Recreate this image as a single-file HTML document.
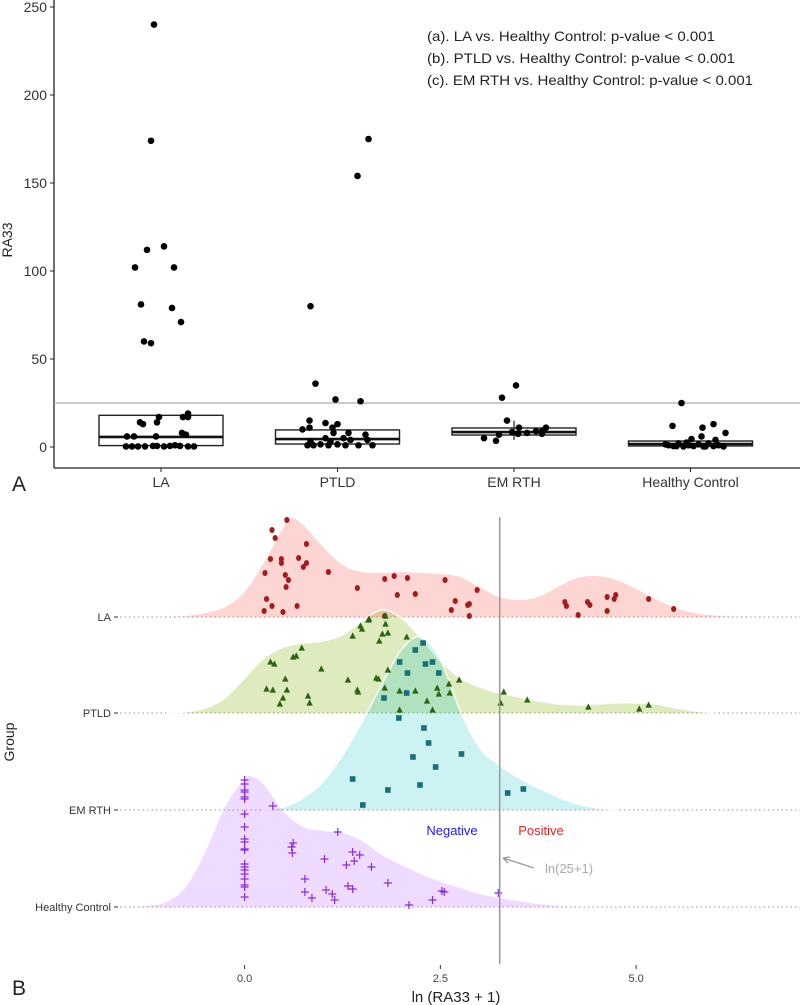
<!DOCTYPE html>
<html><head><meta charset="utf-8"><style>
html,body{margin:0;padding:0;background:#fff}
svg{display:block;font-family:"Liberation Sans",Arial,sans-serif}
</style></head><body>
<svg id="chart" width="800" height="1005" viewBox="0 0 800 1005"></svg>
<script>
// ---------- Panel A data ----------
const catsA = ["LA","PTLD","EM RTH","Healthy Control"];
const yTicksA = [0,50,100,150,200,250];
const boxLA = [0.8,5.7,18];   // q1, median, q3
const boxPTLD = [1.7,4.5,9.7];
const boxEM = [6.8,8.5,10.8];
const boxHC = [0.6,1.7,3.4];
const ptsLAval = [240,174,112,114,102,102,81,79,71,60,59,0.3,0.3,0.3,0.3,0.6,0.6,0.3,0.6,1,0.6,0.3,0.3,6,6,6,8,7,14,13,14,17,17,19,17];
const ptsLAjit = [-7,-10,-14,3,-26,13,-20,11,20,-17,-10,-35,-29,-23,-16,-8,-4,3,9,14,19,27,33,-34,-27,-5,21,25,-21,-18,-4,-2,22,27,27];
const ptsPTval = [175,154,80,36,27,26,15,10,11,13.6,11,13,8,8,7,5,5,4,1,1,1.5,1,1.5,1,1,1,4,3,3];
const ptsPTjit = [31,20,-27,-22,-2,23,-28,-35,-28,-12,-5,0,-4,11,28,-12,6,13,-30,-24,-17,-9,0,8,21,35,30,-7,-27];
const ptsEMval = [28,35,15,11,8.5,8,9,9,11,7.5,7.5,5,3.5,7];
const ptsEMjit = [-12,2,-7,5,-2,13,22,28,32,28,4,-30,-18,-15];
const ptsHCval = [25,12,11,13,8,6,4.5,4,1,0.5,2,0.3,1,0.5,1.5,0.3,2,0.5,1,0.3,1.5,0.5,2.5,0.3];
const ptsHCjit = [-9,-18,12,23,35,11,1,25,-22,-17,-12,-7,-2,3,8,13,18,23,28,33,-25,-14,-4,15];

// ---------- Panel B data ----------
const groupsB = ["LA","PTLD","EM RTH","Healthy Control"];
const xTicksB = [0,2.5,5];
const xTickLabelsB = ["0.0","2.5","5.0"];
const densLAx = [-1,-0.75,-0.5,-0.25,0,0.25,0.5,0.6,0.75,1,1.25,1.5,1.75,2,2.25,2.5,2.75,3,3.25,3.5,3.75,4,4.25,4.5,4.75,5,5.25,5.5,5.75,6,6.25];
const densLAh = [0,1,4,10,25,55,90,99,92,70,52,45,44,45,44,43,40,30,20,17,20,30,39,41,37,28,18,9,4,1.5,0];
const densPTx = [-1,-0.75,-0.5,-0.25,0,0.25,0.5,0.75,1,1.25,1.5,1.75,2,2.25,2.5,2.75,3,3.25,3.5,3.75,4,4.25,4.5,4.75,5,5.25,5.5,5.75,6];
const densPTh = [0,1,5,15,35,55,66,70,72,78,92,103,95,75,52,35,26,20,16,12,9,8,9,10,10,9,5,2,0];
const densEMx = [0.25,0.5,0.75,1,1.25,1.5,1.75,2,2.25,2.5,2.75,3,3.25,3.5,3.75,4,4.25,4.5,4.75];
const densEMh = [0,3,12,28,55,88,125,160,173,150,100,62,45,32,22,13,6,2,0];
const densHCx = [-1.5,-1.25,-1,-0.75,-0.5,-0.25,0,0.1,0.25,0.5,0.75,1,1.25,1.5,1.75,2,2.25,2.5,2.75,3,3.25,3.5,3.75,4,4.25];
const densHCh = [0,1,5,20,55,100,128,130,122,95,80,76,74,66,52,42,33,25,19,13,9,6,3,1,0];
const rLAx = [0.54,0.35,0.39,0.79,0.33,0.47,0.69,0.79,0.75,0.47,0.26,0.52,0.56,1.07,0.53,0.28,0.35,0.25,0.49,0.67,1.79,1.91,2.08,2.56,1.44,1.95,2.18,2.97,2.69,2.64,2.85,2.87,2.87,1.79,4.09,4.11,4.38,4.41,4.26,4.63,4.72,4.74,4.63,5.16,5.48];
const rLAy = [97,87,79,73,58,58,59,54,50,54,44,42,37,45,30,18,11,6,5,11,38,41,39,37,29,22,23,27,16,7,12,13,1,1,15,11,15,12,2,20,18,22,6,18,8];
const rPTx = [1.59,1.58,1.80,1.80,1.48,1.50,1.38,1.76,1.83,1.72,2.07,0.73,0.66,0.62,0.33,0.38,0.98,0.52,0.28,0.36,0.54,0.49,0.45,0.81,0.83,1.32,1.68,1.71,1.44,1.45,1.79,1.98,2.18,2.46,2.48,2.61,2.62,2.74,2.33,1.98,2.40,3.31,3.27,3.61,4.39,5.04,5.16,1.83];
const rPTy = [94,93,97,89,87,84,77,79,80,72,76,65,57,56,51,49,44,34,24,23,23,15,9,17,10,33,35,34,23,21,25,22,22,25,19,29,20,33,12,3,3,21,10,13,6,4,8,43];
const rEMx = [2.28,2.18,1.98,2.31,2.40,2.08,2.48,1.78,2.07,1.97,2.29,2.35,2.15,2.77,2.44,1.38,1.83,2.24,3.36,3.56,1.51];
const rEMy = [167,160,148,146,148,137,137,112,117,92,82,67,53,56,43,31,20,25,17,21,5];
const rHCx = [0,0,0,0,0,0,0,0,0,0,0,0,0,0,0,0,0,0,0,0,0.36,1.19,0.62,0.60,0.61,1.02,1.38,1.47,1.40,1.30,1.62,0.77,1.83,0.77,1.04,1.32,1.38,1.12,0.86,1.15,2.10,2.40,2.55,2.52,3.24];
const rHCy = [127,123,117,115,110,108,93,80,68,65,58,57,43,40,37,33,28,22,20,10,101,75,64,60,54,48,55,52,46,42,40,28,24,15,17,21,18,13,9,7,2,7,15,16,14,2];

const NS="http://www.w3.org/2000/svg";
const svg=document.getElementById('chart');
function mk(tag,attrs,parent){const e=document.createElementNS(NS,tag);for(const k in attrs)e.setAttribute(k,attrs[k]);(parent||svg).appendChild(e);return e;}

// ================= Panel A =================
const A={left:54,right:800,bottom:468,y0:447,pxPer:1.76,c0:161,step:176.5};
function yA(v){return A.y0-v*A.pxPer;}
function xA(i){return A.c0+i*A.step;}
const gA=mk('g',{});


let ax=mk('line',{x1:A.left,y1:0,x2:A.left,y2:A.bottom,stroke:'#222','stroke-width':1.3},gA);

ax=mk('line',{x1:A.left,y1:A.bottom,x2:A.right,y2:A.bottom,stroke:'#222','stroke-width':1.3},gA);

yTicksA.forEach(t=>{
  const tk=mk('line',{x1:A.left-4,y1:yA(t),x2:A.left,y2:yA(t),stroke:'#222','stroke-width':1},gA);
  
  const tl=mk('text',{x:A.left-7,y:yA(t)+5,'text-anchor':'end','font-size':14,fill:'#333'},gA);
  tl.textContent=t;
  
});
const yt=mk('text',{x:12,y:240,transform:'rotate(-90 12 240)','text-anchor':'middle','font-size':14,fill:'#222'},gA);
yt.textContent='RA33';
catsA.forEach((c,i)=>{
  const tk=mk('line',{x1:xA(i),y1:A.bottom,x2:xA(i),y2:A.bottom+4,stroke:'#222','stroke-width':1},gA);
  
  const tl=mk('text',{x:xA(i),y:A.bottom+19,'text-anchor':'middle','font-size':14,fill:'#333'},gA);
  tl.textContent=c;
});
let th=mk('line',{x1:A.left,y1:yA(25),x2:A.right,y2:yA(25),stroke:'#aaa','stroke-width':1.3},gA);

[boxLA,boxPTLD,boxEM,boxHC].forEach((b,i)=>{
  const hw=62;
  const r=mk('rect',{x:xA(i)-hw,y:yA(b[2]),width:hw*2,height:yA(b[0])-yA(b[2]),fill:'none',stroke:'#222','stroke-width':1.4},gA);
  
  const m=mk('line',{x1:xA(i)-hw,y1:yA(b[1]),x2:xA(i)+hw,y2:yA(b[1]),stroke:'#111','stroke-width':2.6},gA);
  
});
let wk=mk('line',{x1:xA(2),y1:yA(15),x2:xA(2),y2:yA(4),stroke:'#222','stroke-width':1.2},gA);

[[ptsLAval,ptsLAjit],[ptsPTval,ptsPTjit],[ptsEMval,ptsEMjit],[ptsHCval,ptsHCjit]].forEach((p,i)=>{
  p[0].forEach((v,j)=>{
    const c=mk('circle',{cx:xA(i)+p[1][j],cy:yA(v),r:3.3,fill:'#000'},gA);
    
    
  });
});
const annLens=[288,308,326];
["(a). LA vs. Healthy Control: p-value < 0.001","(b). PTLD vs. Healthy Control: p-value < 0.001","(c). EM RTH vs. Healthy Control: p-value < 0.001"].forEach((s,i)=>{
  const t=mk('text',{x:427,y:41+i*22,'font-size':14,fill:'#222',textLength:annLens[i],lengthAdjust:'spacingAndGlyphs'},gA);
  t.textContent=s;
});
let la=mk('text',{x:12,y:491,'font-size':21,fill:'#222'},gA);
la.textContent='A';

// ================= Panel B =================
const B={x0:244.6,per:78.3,base:[617,713,810,907],right:800};
function xB(v){return B.x0+v*B.per;}
const gB=mk('g',{});


const clip=mk('clipPath',{id:'clipB'},gB);mk('rect',{x:0,y:480,width:800,height:520},clip);
groupsB.forEach((g,i)=>{
  const l=mk('line',{x1:120,y1:B.base[i],x2:B.right,y2:B.base[i],stroke:'#aaa','stroke-width':1.2,'stroke-dasharray':'1.5 3'},gB);
  
  const tk=mk('line',{x1:114,y1:B.base[i],x2:118,y2:B.base[i],stroke:'#333','stroke-width':1},gB);
  
  const t=mk('text',{x:111,y:B.base[i]+4,'text-anchor':'end','font-size':11,fill:'#333'},gB);
  t.textContent=g;
});
function smoothPath(pts){
  let d='M'+pts[0][0]+','+pts[0][1];
  for(let i=0;i<pts.length-1;i++){
    const p0=pts[i-1]||pts[i],p1=pts[i],p2=pts[i+1],p3=pts[i+2]||p2;
    const c1=[p1[0]+(p2[0]-p0[0])/6,p1[1]+(p2[1]-p0[1])/6];
    const c2=[p2[0]-(p3[0]-p1[0])/6,p2[1]-(p3[1]-p1[1])/6];
    d+=' C'+c1[0].toFixed(1)+','+c1[1].toFixed(1)+' '+c2[0].toFixed(1)+','+c2[1].toFixed(1)+' '+p2[0].toFixed(1)+','+p2[1].toFixed(1);
  }
  return d;
}
const fills=['rgba(248,118,109,0.3)','rgba(124,174,0,0.25)','rgba(0,191,196,0.2)','rgba(199,124,255,0.28)'];
const strokes=['none','#fff','#fff','none'];
[[densLAx,densLAh],[densPTx,densPTh],[densEMx,densEMh],[densHCx,densHCh]].forEach((d,i)=>{
  const pts=d[0].map((v,j)=>[xB(v),B.base[i]-d[1][j]]);
  const top=smoothPath(pts);
  const area=mk('path',{d:top+' L'+pts[pts.length-1][0]+','+B.base[i]+' L'+pts[0][0]+','+B.base[i]+' Z',fill:fills[i],'clip-path':'url(#clipB)'},gB);
  
  
  if(strokes[i]!=='none'){
    const o=mk('path',{d:top,fill:'none',stroke:strokes[i],'stroke-width':1.3},gB);
    
  }
});
rLAx.forEach((v,j)=>{const c=mk('ellipse',{cx:xB(v),cy:B.base[0]-rLAy[j],rx:2.6,ry:3,fill:'#a51c1c'},gB);
  });
rPTx.forEach((v,j)=>{const x=xB(v),y=B.base[1]-rPTy[j];
  const p=mk('polygon',{points:(x-3.2)+','+(y+2.6)+' '+(x+3.2)+','+(y+2.6)+' '+x+','+(y-3.6),fill:'#2c6410'},gB);
  });
rEMx.forEach((v,j)=>{const r=mk('rect',{x:xB(v)-2.8,y:B.base[2]-rEMy[j]-2.8,width:5.6,height:5.6,fill:'#17707a'},gB);
  });
rHCx.forEach((v,j)=>{const x=xB(v),y=B.base[3]-rHCy[j];
  const p=mk('path',{d:'M'+(x-4)+','+y+' H'+(x+4)+' M'+x+','+(y-4)+' V'+(y+4),stroke:'#8a2be2','stroke-width':1.2,fill:'none'},gB);
  });
const cut=Math.log(26);
let cl=mk('line',{x1:xB(cut),y1:517,x2:xB(cut),y2:964,stroke:'#999','stroke-width':1.5},gB);

let t;
t=mk('text',{x:452,y:835,'text-anchor':'middle','font-size':13,fill:'#1a1aff'},gB);t.textContent='Negative';

t=mk('text',{x:541,y:835,'text-anchor':'middle','font-size':13,fill:'#ee2222'},gB);t.textContent='Positive';

t=mk('text',{x:545,y:873,'font-size':13,fill:'#aaa'},gB);t.textContent='ln(25+1)';

let ar=mk('path',{d:'M534,868 L503,858 M503,858 l7,-1 M503,858 l5,5',stroke:'#999','stroke-width':1.3,fill:'none'},gB);

xTicksB.forEach((v,i)=>{
  const tk=mk('line',{x1:xB(v),y1:965,x2:xB(v),y2:969,stroke:'#333','stroke-width':1},gB);
  
  const l=mk('text',{x:xB(v),y:982,'text-anchor':'middle','font-size':11,fill:'#444'},gB);
  l.textContent=xTickLabelsB[i];
});
t=mk('text',{x:456,y:1002,'text-anchor':'middle','font-size':15,fill:'#222'},gB);t.textContent='ln (RA33 + 1)';

t=mk('text',{x:14,y:742,transform:'rotate(-90 14 742)','text-anchor':'middle','font-size':14,fill:'#222'},gB);t.textContent='Group';

t=mk('text',{x:12,y:995,'font-size':21,fill:'#222'},gB);t.textContent='B';

</script>
</body></html>
